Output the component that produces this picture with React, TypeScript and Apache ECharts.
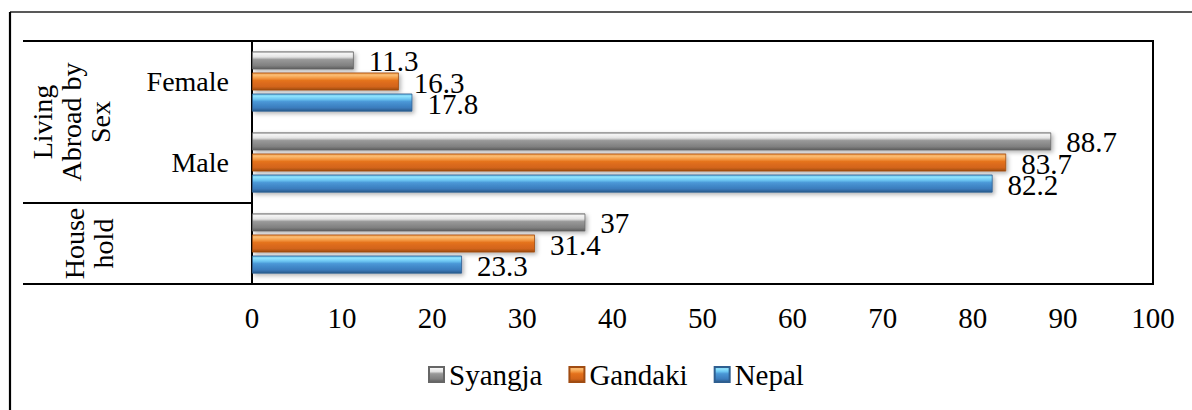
import React, { useEffect, useRef } from "react";
import * as echarts from "echarts";

const subCategories = ["", "Male", "Female"];
const groups = [
  { label: "House\nhold", from: 0, to: 0, cx: 89 },
  { label: "Living\nAbroad by\nSex", from: 1, to: 2, cx: 71 },
];
const seriesNames = ["Syangja", "Gandaki", "Nepal"];
const syangja = [37, 88.7, 11.3];
const gandaki = [31.4, 83.7, 16.3];
const nepal = [23.3, 82.2, 17.8];
const xTicks = { min: 0, max: 100, interval: 10 };

const FONT = "Liberation Serif";
const FS = 29;

const grad = (stops: [number, string][]) =>
  new echarts.graphic.LinearGradient(
    0,
    0,
    0,
    1,
    stops.map(([offset, color]) => ({ offset, color }))
  );

const grayFill = grad([
  [0, "#bdbdbd"],
  [0.1, "#f5f5f5"],
  [0.3, "#e3e3e3"],
  [0.45, "#999999"],
  [0.8, "#808080"],
  [1, "#5c5c5c"],
]);
const orangeFill = grad([
  [0, "#e88a35"],
  [0.12, "#fcc077"],
  [0.3, "#f39a45"],
  [0.45, "#e4711c"],
  [0.8, "#d2641a"],
  [1, "#9c4a10"],
]);
const blueFill = grad([
  [0, "#5aaedf"],
  [0.12, "#93e6ff"],
  [0.3, "#6cc6f2"],
  [0.45, "#4a97d6"],
  [0.8, "#3b7cbd"],
  [1, "#2a5a8c"],
]);

export default function App() {
  const ref = useRef<HTMLDivElement>(null);

  useEffect(() => {
    if (!ref.current) return;
    const chart = echarts.init(ref.current, null, { renderer: "svg" });

    const labelCfg = {
      show: true,
      position: "right",
      distance: 15,
      offset: [0, 1],
      color: "#000",
      fontFamily: FONT,
      fontSize: FS,
    };
    const shadow = {
      shadowColor: "rgba(0,0,0,0.3)",
      shadowBlur: 4,
      shadowOffsetX: 2,
      shadowOffsetY: 2,
    };
    const mk = (name: string, data: number[], color: any, border: string) => ({
      name,
      type: "bar",
      data,
      barWidth: 18,
      barGap: "17%",
      label: labelCfg,
      itemStyle: { color, borderColor: border, borderWidth: 0.8, ...shadow },
    });

    const option: any = {
      animation: false,
      backgroundColor: "#fff",
      textStyle: { fontFamily: FONT },
      grid: {
        left: 252,
        right: 39,
        top: 41,
        bottom: 126,
        show: true,
        borderColor: "#000",
        borderWidth: 2,
        backgroundColor: "transparent",
      },
      legend: {
        data: seriesNames,
        left: 423,
        top: 355,
        itemWidth: 15,
        itemHeight: 15,
        itemGap: 26,
        icon: "rect",
        textStyle: { fontFamily: FONT, fontSize: FS, color: "#000" },
      },
      xAxis: {
        type: "value",
        min: xTicks.min,
        max: xTicks.max,
        interval: xTicks.interval,
        axisLine: { show: false },
        axisTick: { show: false },
        splitLine: { show: false },
        axisLabel: { fontFamily: FONT, fontSize: FS, color: "#000", margin: 19 },
      },
      yAxis: {
        type: "category",
        data: subCategories,
        axisLine: { show: false },
        axisTick: { show: false },
        axisLabel: { fontFamily: FONT, fontSize: 28, color: "#000", margin: 23 },
      },
      series: [
        mk("Syangja", syangja, grayFill, "#666"),
        mk("Gandaki", gandaki, orangeFill, "#a04c12"),
        mk("Nepal", nepal, blueFill, "#2f5f90"),
      ],
    };
    chart.setOption(option);

    const yc = (i: number) => chart.convertToPixel({ yAxisIndex: 0 }, i) as number;
    const xc = (v: number) => chart.convertToPixel({ xAxisIndex: 0 }, v) as number;
    const bw = Math.abs(yc(0) - yc(1));
    const left = xc(xTicks.min);

    const elements: any[] = [
      {
        type: "line",
        shape: { x1: 10, y1: 12, x2: 1192, y2: 12 },
        style: { stroke: "#222", lineWidth: 1.5 },
      },
      {
        type: "line",
        shape: { x1: 10, y1: 12, x2: 10, y2: 410 },
        style: { stroke: "#000", lineWidth: 2.2 },
      },
    ];
    groups.forEach((g) => {
      const yTop = yc(g.to) - bw / 2;
      const yBot = yc(g.from) + bw / 2;
      [yTop, yBot].forEach((y) => {
        elements.push({
          type: "line",
          shape: { x1: 23, y1: y, x2: left, y2: y },
          style: { stroke: "#000", lineWidth: 2 },
        });
      });
      elements.push({
        type: "text",
        x: g.cx,
        y: (yTop + yBot) / 2,
        rotation: Math.PI / 2,
        style: {
          text: g.label,
          fontFamily: FONT,
          fontSize: 28,
          lineHeight: 29,
          fill: "#000",
          align: "center",
          verticalAlign: "middle",
        },
      });
    });
    chart.setOption({ graphic: { elements } });

    return () => chart.dispose();
  }, []);

  return (
    <div
      ref={ref}
      style={{ position: "fixed", left: 0, top: 0, width: 1192, height: 410 }}
    />
  );
}
